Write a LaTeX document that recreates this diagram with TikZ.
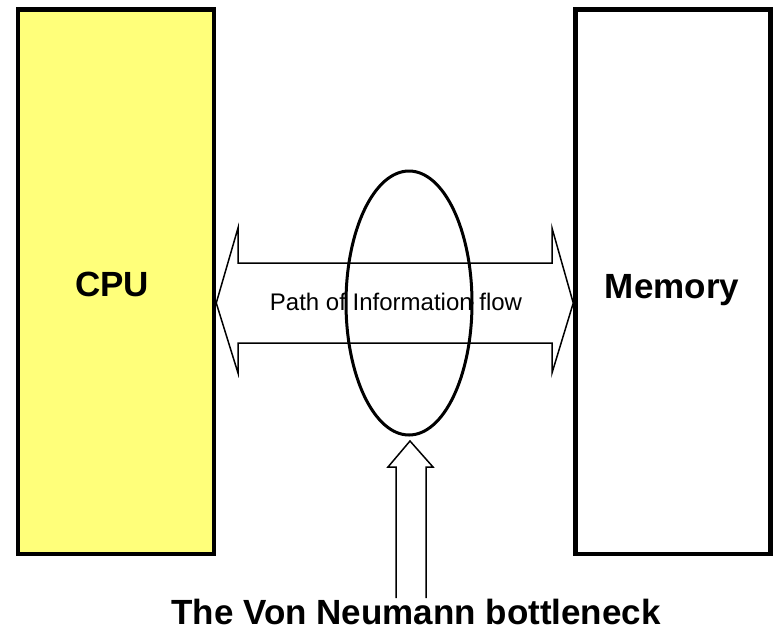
\documentclass[tikz,border=0pt]{standalone}
\usepackage{fontspec}
\setmainfont{Liberation Sans}
\usetikzlibrary{shapes.geometric}
\definecolor{cpuyellow}{RGB}{255,255,122}
\tikzset{
  unitbox/.style={draw=black, line width=4.5pt, minimum width=196pt, minimum height=544.5pt, inner sep=0pt},
  biglabel/.style={font=\fontsize{35}{40}\selectfont\bfseries, inner sep=0pt, anchor=base},
  flowlabel/.style={font=\fontsize{24}{28}\selectfont, inner sep=0pt, anchor=base},
  blockarrow/.style={draw=black, line width=1.5pt, fill=white, line join=miter},
  neck/.style={draw=black, line width=3pt, ellipse, minimum width=126pt, minimum height=264pt, inner sep=0pt}
}
\begin{document}
\begin{tikzpicture}[x=1pt,y=-1pt]
\useasboundingbox[fill=white] (0,0) rectangle (773,630);
% boxes
\node[unitbox, fill=cpuyellow] (cpu) at (116,281.75) {};
\node[unitbox, fill=white, minimum width=195pt] (mem) at (673,281.75) {};
\node[biglabel] (cpul) at (112,296) {CPU};
\node[biglabel] (meml) at (672,298) {Memory};
% double block arrow between CPU and Memory
\coordinate (lt) at (cpu.east |- 0,303);
\coordinate (rt) at (mem.west |- 0,303);
\draw[blockarrow] (lt) -- (238,228) -- (238,263) -- (552,263) -- (552,228) -- (rt)
  -- (552,373) -- (552,343) -- (238,343) -- (238,373) -- cycle;
\node[flowlabel] (flow) at (396,310) {Path of Information flow};
% bottleneck ellipse
\node[neck] (bn) at (409,303) {};
% upward arrow
\node[biglabel] (caption) at (416,624) {The Von Neumann bottleneck};
\coordinate (sl) at (396,598);
\coordinate (sr) at (426,598);
\draw[draw=black, line width=1.5pt, line join=miter] (sl) -- (396,467) -- (388,467) -- (410,441) -- (433,467) -- (426,467) -- (sr);
\end{tikzpicture}
\end{document}
